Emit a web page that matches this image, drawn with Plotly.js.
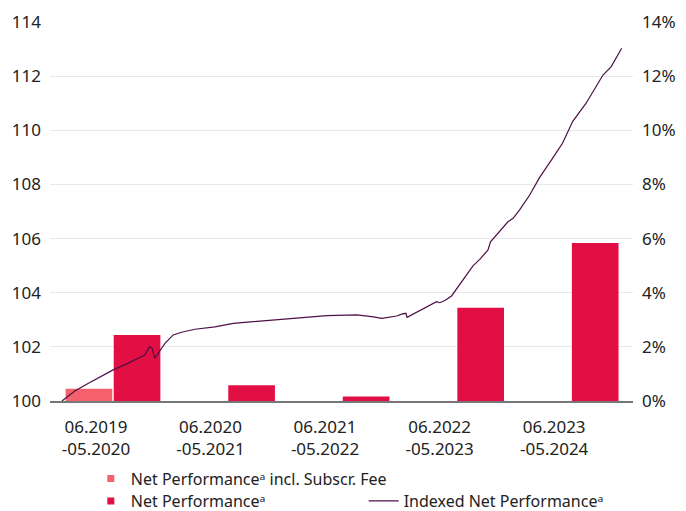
<!DOCTYPE html>
<html>
<head>
<meta charset="utf-8">
<script src="https://cdn.plot.ly/plotly-3.0.1.min.js"></script>
<style>html,body{margin:0;padding:0;background:#fff;}#chart{width:686px;height:511px;}</style>
</head>
<body>
<div id="chart"></div>
<script>
// Categories (annual periods)
const periods = ["06.2019<br>-05.2020", "06.2020<br>-05.2021", "06.2021<br>-05.2022", "06.2022<br>-05.2023", "06.2023<br>-05.2024"];
// Net Performance incl. subscription fee (%), only shown for first period
const netPerfInclFee = [0.45, null, null, null, null];
// Net Performance (%)
const netPerf = [2.44, 0.58, 0.17, 3.44, 5.84];
// Indexed Net Performance (index, start = 100)
const indexDates = ["2019-06-01","2019-07-13","2019-08-25","2019-09-27","2019-11-15","2020-01-02","2020-02-26","2020-03-13","2020-03-21","2020-03-30","2020-04-10","2020-05-02","2020-05-29","2020-06-25","2020-08-08","2020-10-12","2020-12-11","2021-03-30","2021-07-17","2021-10-12","2022-01-18","2022-02-20","2022-03-13","2022-04-09","2022-05-06","2022-05-28","2022-06-13","2022-06-27","2022-07-01","2022-07-21","2022-08-12","2022-09-11","2022-10-05","2022-10-16","2022-11-01","2022-11-23","2022-12-31","2023-02-01","2023-02-23","2023-03-22","2023-03-30","2023-04-18","2023-05-05","2023-05-26","2023-06-12","2023-07-03","2023-08-05","2023-09-06","2023-10-19","2023-11-20","2023-12-23","2024-02-05","2024-03-31","2024-04-27","2024-05-31"];
const indexValues = [100.00,100.37,100.65,100.84,101.15,101.39,101.70,102.01,101.95,101.58,101.76,102.13,102.44,102.54,102.65,102.74,102.87,102.97,103.08,103.15,103.18,103.15,103.11,103.05,103.09,103.14,103.21,103.24,103.09,103.21,103.36,103.55,103.67,103.63,103.71,103.88,104.47,104.99,105.23,105.58,105.88,106.13,106.32,106.62,106.75,107.06,107.61,108.25,108.97,109.52,110.32,111.00,112.04,112.35,113.03];

const FONT = '"Noto Sans", "Open Sans", Arial, sans-serif';
const LIGHT = '#F4606C';
const DARK = '#E20F45';
const LINE = '#4E0F47';

const traces = [
  {type:'bar', x: periods, y: netPerfInclFee, xaxis:'x', yaxis:'y', marker:{color:LIGHT}, showlegend:false, hoverinfo:'y'},
  {type:'bar', x: periods, y: netPerf, xaxis:'x', yaxis:'y', marker:{color:DARK}, showlegend:false, hoverinfo:'y'},
  {type:'scatter', mode:'lines', x: indexDates, y: indexValues, xaxis:'x2', yaxis:'y2', line:{color:LINE, width:1.2}, name:'Indexed Net Performanceᵃ', legend:'legend2'},
  // legend entries for bars (small square swatches)
  {type:'scatter', mode:'markers', x:[null], y:[null], xaxis:'x', yaxis:'y', marker:{symbol:'square', size:7, color:LIGHT}, name:'Net Performanceᵃ incl. Subscr. Fee', legend:'legend'},
  {type:'scatter', mode:'markers', x:[null], y:[null], xaxis:'x', yaxis:'y', marker:{symbol:'square', size:7, color:DARK}, name:'Net Performanceᵃ', legend:'legend3'}
];

const legendBase = {xanchor:'left', yanchor:'top', orientation:'v', font:{size:16, color:'#222'}, bgcolor:'rgba(0,0,0,0)', borderwidth:0, itemwidth:30};

const layout = {
  width:686, height:511,
  margin:{l:50, r:53, t:22, b:110, autoexpand:false},
  paper_bgcolor:'#fff', plot_bgcolor:'#fff',
  font:{family:FONT, size:17, color:'#222'},
  barmode:'group', bargap:0.16, bargroupgap:0.03,
  xaxis:{type:'category', range:[-0.55, 4.54], showgrid:false, showline:true, linecolor:'#777', linewidth:1.5, ticks:'', ticklabelshift:-17, ticklabelstandoff:10, automargin:false, tickfont:{size:17, color:'#222'}, fixedrange:true},
  xaxis2:{type:'date', overlaying:'x', range:['2019-04-23','2024-07-07'], visible:false, showgrid:false},
  yaxis:{side:'right', range:[0,14], dtick:2, ticksuffix:'%', showgrid:false, zeroline:false, showline:false, ticks:'', ticklabelstandoff:8, automargin:false, tickfont:{size:17, color:'#222'}},
  yaxis2:{side:'left', overlaying:'y', range:[100,114], dtick:2, showgrid:true, gridcolor:'#E8E8E8', gridwidth:1, zeroline:false, showline:false, ticks:'', ticklabelstandoff:8, automargin:false, tickfont:{size:17, color:'#222'}},
  showlegend:true,
  legend:Object.assign({}, legendBase, {x:0.07, y:-0.16}),
  legend3:Object.assign({}, legendBase, {x:0.07, y:-0.219}),
  legend2:Object.assign({}, legendBase, {x:0.538, y:-0.219})
};

Plotly.newPlot('chart', traces, layout, {displayModeBar:false, staticPlot:true});
</script>
</body>
</html>
